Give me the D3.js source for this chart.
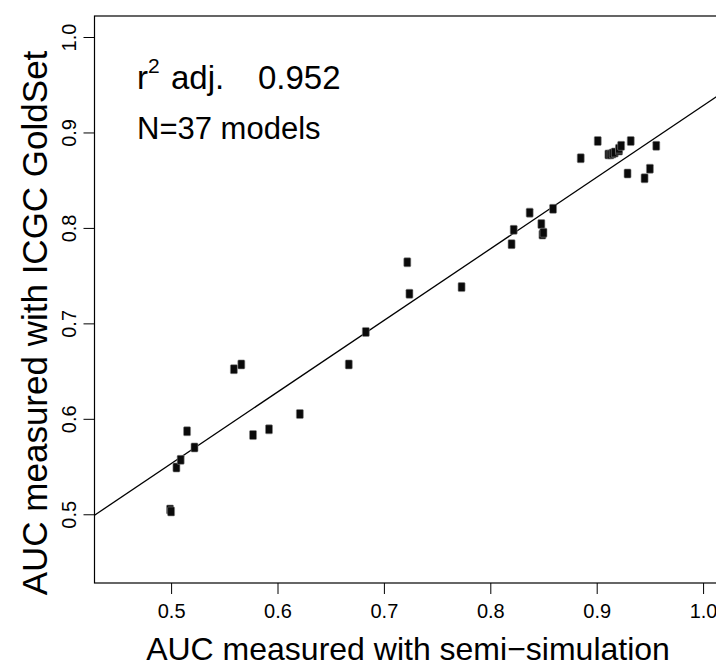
<!DOCTYPE html>
<html>
<head>
<meta charset="utf-8">
<script src="https://cdn.jsdelivr.net/npm/d3@7"></script>
<style>
  body { margin: 0; background: #fff; }
  svg { display: block; font-family: 'Liberation Sans', Arial, Helvetica, sans-serif; }
</style>
</head>
<body>
<div id="root"></div>
<script>
// AUC per model: semi-simulation (x) vs ICGC GoldSet (y)
const aucSemiSim = [
  0.499, 0.500, 0.505, 0.509, 0.515, 0.522, 0.559, 0.566, 0.577, 0.592,
  0.621, 0.667, 0.683, 0.722, 0.724, 0.773, 0.820, 0.822, 0.837, 0.848,
  0.849, 0.850, 0.859, 0.885, 0.901, 0.911, 0.913, 0.915, 0.917, 0.921,
  0.921, 0.923, 0.932, 0.929, 0.945, 0.950, 0.956
];
const aucGoldSet = [
  0.505, 0.503, 0.549, 0.557, 0.587, 0.570, 0.652, 0.657, 0.583, 0.589,
  0.605, 0.657, 0.691, 0.764, 0.731, 0.738, 0.783, 0.798, 0.816, 0.804,
  0.793, 0.795, 0.820, 0.873, 0.891, 0.877, 0.877, 0.878, 0.879, 0.881,
  0.883, 0.886, 0.891, 0.857, 0.852, 0.862, 0.886
];
const xTicks = [0.5, 0.6, 0.7, 0.8, 0.9, 1.0];
const yTicks = [0.5, 0.6, 0.7, 0.8, 0.9, 1.0];
const fitIntercept = 0.178;
const fitSlope = 0.75;

const W = 716, H = 666;
const margin = { top: 16, left: 94.5 };
const plotW = 632, plotH = 567;

const svg = d3.select('#root').append('svg')
  .attr('width', W)
  .attr('height', H);

const x = d3.scaleLinear().domain([0.428, 1.022]).range([margin.left, margin.left + plotW]);
const y = d3.scaleLinear().domain([0.428, 1.022]).range([margin.top + plotH, margin.top]);

svg.append('clipPath').attr('id', 'plot-clip')
  .append('rect')
  .attr('x', margin.left).attr('y', margin.top)
  .attr('width', plotW).attr('height', plotH);

// x axis
const xAxis = svg.append('g')
  .attr('transform', `translate(0, ${margin.top + plotH})`)
  .call(d3.axisBottom(x).tickValues(xTicks).tickSize(11).tickPadding(10).tickFormat(d3.format('.1f')));
xAxis.select('.domain').remove();
xAxis.selectAll('.tick line').attr('stroke', '#000');
xAxis.selectAll('.tick text')
  .attr('font-size', 20)
  .attr('font-family', null)
  .attr('fill', '#000');

// y axis, labels turned like R's las=0
const yAxis = svg.append('g')
  .attr('transform', `translate(${margin.left}, 0)`)
  .call(d3.axisLeft(y).tickValues(yTicks).tickSize(11).tickFormat(d3.format('.1f')));
yAxis.select('.domain').remove();
yAxis.selectAll('.tick line').attr('stroke', '#000');
yAxis.selectAll('.tick text')
  .attr('font-size', 20)
  .attr('font-family', null)
  .attr('fill', '#000')
  .attr('text-anchor', 'middle')
  .attr('transform', 'rotate(-90)')
  .attr('x', 0)
  .attr('y', -19)
  .attr('dy', 0);

// box
svg.append('rect')
  .attr('x', margin.left).attr('y', margin.top)
  .attr('width', plotW).attr('height', plotH)
  .attr('fill', 'none')
  .attr('stroke', '#000')
  .attr('stroke-width', 1.2);

// fitted line
const fitX = x.domain();
svg.append('line')
  .attr('clip-path', 'url(#plot-clip)')
  .attr('x1', x(fitX[0])).attr('y1', y(fitIntercept + fitSlope * fitX[0]))
  .attr('x2', x(fitX[1])).attr('y2', y(fitIntercept + fitSlope * fitX[1]))
  .attr('stroke', '#000')
  .attr('stroke-width', 1.3);

// points
const points = aucSemiSim.map((v, i) => ({ sx: v, gy: aucGoldSet[i] }));
svg.append('g').selectAll('rect')
  .data(points)
  .enter()
  .append('rect')
  .attr('x', (d) => x(d.sx) - 3.5)
  .attr('y', (d) => y(d.gy) - 4.5)
  .attr('width', 7)
  .attr('height', 9)
  .attr('rx', 1)
  .attr('fill', '#0a0a0a')
  .attr('stroke', '#888')
  .attr('stroke-width', 0.6);

// annotations
const note = svg.append('g').attr('font-size', 33).attr('fill', '#000');
note.append('text').attr('x', 137).attr('y', 89).text('r');
note.append('text').attr('x', 148).attr('y', 73).attr('font-size', 21).text('2');
note.append('text').attr('x', 171).attr('y', 89).text('adj.');
note.append('text').attr('x', 258).attr('y', 89).text('0.952');
note.append('text').attr('x', 137).attr('y', 139).attr('font-size', 31).text('N=37 models');

// axis titles
svg.append('text')
  .attr('x', 408)
  .attr('y', 660)
  .attr('text-anchor', 'middle')
  .attr('font-size', 32)
  .text('AUC measured with semi\u2212simulation');

svg.append('text')
  .attr('transform', 'translate(47, 323) rotate(-90)')
  .attr('text-anchor', 'middle')
  .attr('font-size', 35)
  .text('AUC measured with ICGC GoldSet');
</script>
</body>
</html>
